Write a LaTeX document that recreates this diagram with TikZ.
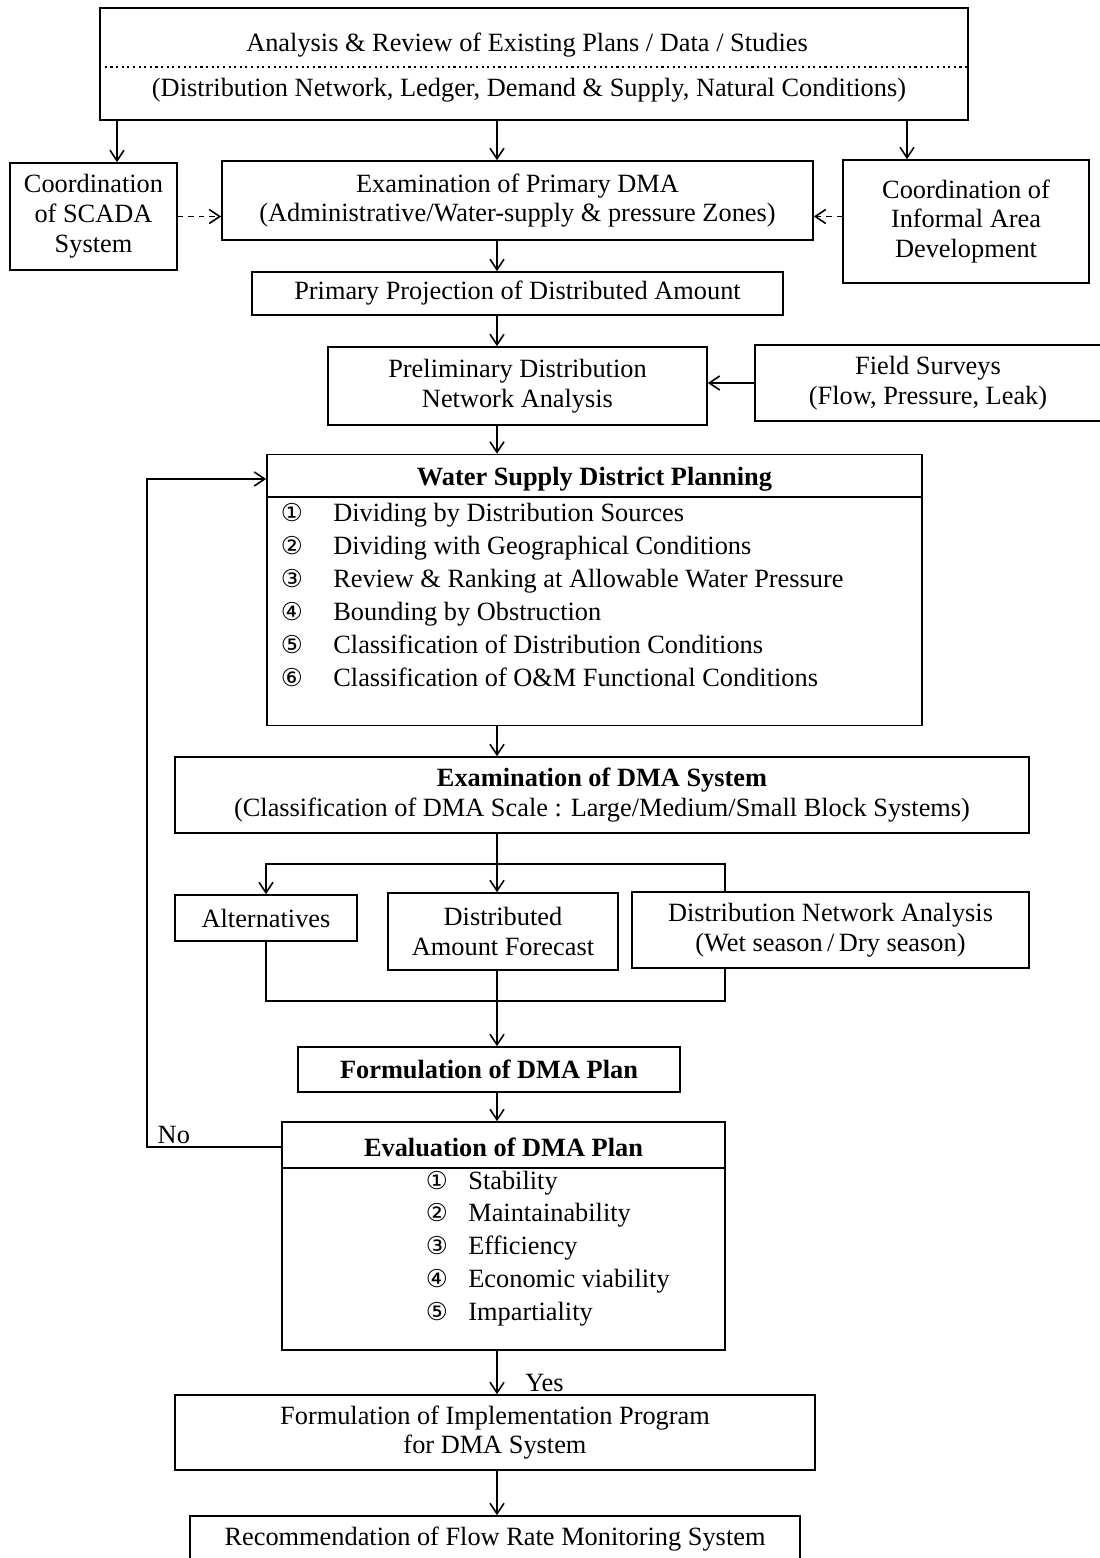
\documentclass[tikz,border=0pt]{standalone}
\usepackage{fontspec}
\setmainfont{Liberation Serif}
\newfontfamily\circfont{DejaVu Sans}
\usetikzlibrary{arrows.meta}

\tikzset{
  box/.style={draw, line width=0.9pt, inner sep=0pt, align=center, font=\fontsize{15}{17}\selectfont},
  wh/.style 2 args={minimum width=#1*0.02cm, minimum height=#2*0.02cm},
  lbl/.style={inner sep=0pt, font=\fontsize{15}{17}\selectfont},
  ttl/.style={inner sep=0pt, font=\fontsize{15}{17}\selectfont\bfseries},
  num/.style={inner sep=0pt, font=\fontsize{14}{17}\selectfont\circfont},
  arr/.style={-{Straight Barb[length=6pt,width=8pt]}, line width=0.9pt},
  dasharr/.style={arr, dashed},
}

\begin{document}
\begin{tikzpicture}[x=0.02cm, y=-0.02cm]

		\useasboundingbox (0,0) rectangle (1099,1558);

		% helper coordinates for the main flow line and the branches
		\coordinate (spine) at (497,0);
		\coordinate (loopx) at (147,0);
		\coordinate (fork) at (725,864);
		\coordinate (join) at (725,1001);

		% review of existing data
		\node[box, wh={868}{112}] (top) at (534,64) {};
		\node[lbl] (toptext) at (527,45) {Analysis \& Review of Existing Plans / Data / Studies};
		\node[lbl] (topsub) at (529,90) {(Distribution Network, Ledger, Demand \& Supply, Natural Conditions)};
		\draw[dotted, line width=1.2pt] (top.west |- 0,67) -- (top.east |- 0,67);

		% second row
		\node[box, wh={167}{107}] (scada) at (93.5,216.5) {Coordination\\of SCADA\\System};
		\node[box, wh={591}{79}] (exam) at (517.5,200.5) {Examination of Primary DMA\\(Administrative/Water-supply \& pressure Zones)};
		\node[box, wh={246}{123}] (informal) at (966,221.5) {Coordination of\\Informal Area\\Development};

		\coordinate (scadain) at ([xshift=0.47cm]scada.north);
		\coordinate (informalin) at ([xshift=-1.18cm]informal.north);

		% projection and preliminary analysis
		\node[box, wh={531}{43}] (proj) at (517.5,293.5) {Primary Projection of Distributed Amount};
		\node[box, wh={379}{78}] (prelim) at (517.5,386) {Preliminary Distribution\\Network Analysis};
		\node[box, wh={346}{76}] (field) at (928,383) {Field Surveys\\(Flow, Pressure, Leak)};

		% water supply district planning
		\node[box, wh={655}{271}] (wsd) at (594.5,590) {};
		\node[ttl] (wsdtitle) at (594.5,479) {Water Supply District Planning};
		\draw[line width=0.9pt] (wsd.west |- 0,497) -- (wsd.east |- 0,497);
		\foreach \n/\t [count=\i] in {①/Dividing by Distribution Sources,
				②/Dividing with Geographical Conditions,
				③/Review \& Ranking at Allowable Water Pressure,
				④/Bounding by Obstruction,
				⑤/Classification of Distribution Conditions,
				⑥/Classification of O\&M Functional Conditions}{
			\node[num, anchor=base] (wsdn\i) at (292,{488+33*\i}) {\n};
			\node[lbl, anchor=base west] (wsdi\i) at (333,{488+33*\i}) {\t};
		}

		% DMA system and its three studies
		\node[box, wh={854}{76}] (dmasys) at (602,795) {\textbf{Examination of DMA System}\\(Classification of DMA Scale : Large/Medium/Small Block Systems)};
		\node[box, wh={182}{46}] (alt) at (266,918) {Alternatives};
		\node[box, wh={230}{77}] (dist) at (503,931.5) {Distributed\\Amount Forecast};
		\node[box, wh={397}{76}] (dnet) at (830.5,930) {Distribution Network Analysis\\(Wet season\,/\,Dry season)};

		% plan and its evaluation
		\node[box, wh={382}{45}, font=\fontsize{15}{17}\selectfont\bfseries] (form) at (489,1069.5) {Formulation of DMA Plan};
		\node[box, wh={443}{228}] (eval) at (503.5,1236) {};
		\node[ttl] (evtitle) at (503.5,1147) {Evaluation of DMA Plan};
		\draw[line width=0.9pt] (eval.west |- 0,1168) -- (eval.east |- 0,1168);
		\foreach \n/\t [count=\i] in {①/Stability, ②/Maintainability, ③/Efficiency,
				④/Economic viability, ⑤/Impartiality}{
			\node[num, anchor=base] (evn\i) at (437,{1156.25+32.75*\i}) {\n};
			\node[lbl, anchor=base west] (evi\i) at (468,{1156.25+32.75*\i}) {\t};
		}

		% implementation
		\node[box, wh={640}{75}] (impl) at (495,1432.5) {Formulation of Implementation Program\\for DMA System};
		\node[box, wh={610}{46}] (rec) at (495,1539) {Recommendation of Flow Rate Monitoring System};

		% arrows down the main line
		\draw[arr] (top.south -| scadain) -- (scadain);
		\draw[arr] (top.south -| spine) -- (exam.north -| spine);
		\draw[arr] (top.south -| informalin) -- (informalin);
		\draw[dasharr] (scada.east) -- (scada.east -| exam.west);
		\draw[dasharr] (informal.west |- scada.east) -- (exam.east |- scada.east);
		\draw[arr] (exam.south -| spine) -- (proj.north -| spine);
		\draw[arr] (proj.south -| spine) -- (prelim.north -| spine);
		\draw[arr] (field.west) -- (field.west -| prelim.east);
		\draw[arr] (prelim.south -| spine) -- (wsd.north -| spine);
		\draw[arr] (wsd.south -| spine) -- (dmasys.north -| spine);

		% branching into the three studies and back
		\draw[arr] (dmasys.south -| spine) -- (dist.north -| spine);
		\draw[arr] (dnet.north -| fork) -- (fork) -| (alt.north);
		\draw[line width=0.9pt] (alt.south) |- (join) -- (dnet.south -| join);
		\draw[arr] (dist.south -| spine) -- (form.north -| spine);
		\draw[arr] (form.south -| spine) -- (eval.north -| spine);

		% feedback loop when the plan fails
		\draw[arr] (evtitle -| eval.west) -- node[pos=0.8, anchor=base, yshift=2pt, lbl] {No} (evtitle -| loopx) |- (wsdtitle -| wsd.west);

		% accepted plan
		\draw[arr] (eval.south -| spine) -- node[pos=0.75, anchor=west, xshift=0.55cm, lbl] {Yes} (impl.north -| spine);
		\draw[arr] (impl.south -| spine) -- (rec.north -| spine);

\end{tikzpicture}
\end{document}
